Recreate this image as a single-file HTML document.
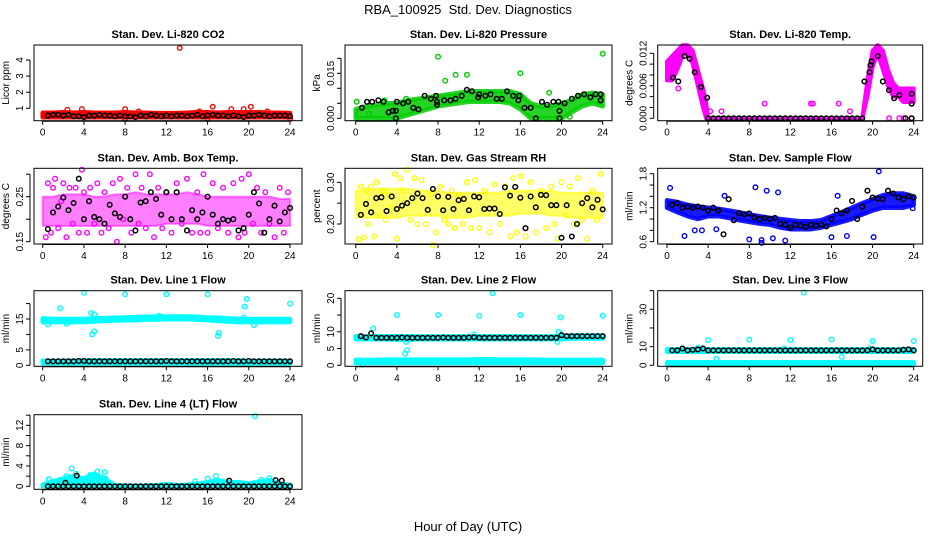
<!DOCTYPE html>
<html><head><meta charset="utf-8"><title>RBA_100925 Std. Dev. Diagnostics</title>
<style>
html,body{margin:0;padding:0;background:#fff;}
svg{display:block;font-family:"Liberation Sans",Arial,sans-serif;}
.t{font-size:11px;font-weight:bold;text-anchor:middle;}
.tk{font-size:10px;text-anchor:middle;}
</style></head>
<body>
<svg id="chart" width="936" height="540" viewBox="0 0 936 540">
<text x="468" y="14" font-size="13" text-anchor="middle" style="white-space:pre">RBA_100925  Std. Dev. Diagnostics</text>
<text x="468" y="531" font-size="13" text-anchor="middle">Hour of Day (UTC)</text>
</svg>
<script>
// ---------- shared categories ----------
const HOURS25 = [0,1,2,3,4,5,6,7,8,9,10,11,12,13,14,15,16,17,18,19,20,21,22,23,24];
const HALF = [0.5,1,1.5,2,2.5,3,3.5,4,4.5,5,5.5,6,6.5,7,7.5,8,8.5,9,9.5,10,10.5,11,11.5,12,12.5,13,13.5,14,14.5,15,15.5,16,16.5,17,17.5,18,18.5,19,19.5,20,20.5,21,21.5,22,22.5,23,23.5,24];
const X_TICKS = [0,4,8,12,16,20,24];
const cloudHours = [0.3,0.5,0.8,1.0,1.2,1.5,1.8,2.0,2.3,2.6,2.9,3.2,3.5,3.8,4.0,4.3,4.6,5.0,5.3,5.7,6.0,6.4,6.8,7.2,7.5,7.8,8.2,8.6,9.0,9.3,9.6,10.0,10.4,10.8,11.2,11.6,12.0,12.5,13.0,13.5,14.0,14.5,15.0,15.3,15.6,16.0,16.5,17.0,17.5,18.0,18.5,19.0,19.3,19.6,20.0,20.4,20.8,21.2,21.6,22.0,22.5,23.0,23.4,23.8];

// ---------- CO2 ----------
const co2Lo = [0.45,0.45,0.45,0.45,0.45,0.45,0.45,0.45,0.45,0.45,0.45,0.45,0.45,0.45,0.45,0.45,0.45,0.45,0.45,0.45,0.45,0.45,0.45,0.45,0.45];
const co2Hi = [0.72,0.72,0.75,0.72,0.75,0.72,0.72,0.72,0.75,0.72,0.72,0.7,0.7,0.7,0.72,0.75,0.75,0.72,0.75,0.75,0.75,0.75,0.72,0.72,0.7];
const co2OutH = [13.3,2.4,3.8,8.0,16.5,18.3,19.5,20.2,16.0,8.0,24.0,9.3,15.2,21.8];
const co2OutV = [4.75,0.9,0.95,0.95,1.1,0.95,0.95,1.1,0.35,0.35,0.35,0.8,0.8,0.8];
const co2Black = [0.55,0.6,0.6,0.55,0.6,0.5,0.5,0.45,0.55,0.55,0.6,0.55,0.55,0.5,0.55,0.5,0.5,0.45,0.55,0.5,0.6,0.55,0.5,0.55,0.5,0.55,0.55,0.5,0.55,0.6,0.5,0.55,0.6,0.55,0.55,0.5,0.55,0.5,0.45,0.55,0.55,0.6,0.55,0.5,0.55,0.55,0.55,0.5];

// ---------- Pressure ----------
const presLo = [0,0,0,0,0,0.001,0.002,0.003,0.004,0.0045,0.005,0.0055,0.0055,0.0055,0.0055,0.005,0.003,0,0,0,0,0.002,0.004,0.005,0.004];
const presHi = [0.003,0.004,0.0045,0.005,0.005,0.006,0.0065,0.007,0.0075,0.008,0.0085,0.009,0.009,0.009,0.009,0.009,0.008,0.005,0.004,0.004,0.005,0.006,0.008,0.0085,0.008];
const presOutH = [8.0,8.7,9.7,10.8,16.0,24.0,18.8,0.1,1.3,2.8,4.9,20.8];
const presOutV = [0.0205,0.0125,0.0145,0.0145,0.015,0.0215,0.0085,0.0055,0.0015,0.006,0.0065,0.0005];
const presBlackH = [0.6,1.1,1.6,2.2,2.7,3.2,3.6,3.9,3.9,4.0,4.6,5.1,5.6,6.1,6.7,7.3,7.8,7.9,7.9,8.6,9.2,9.7,10.3,10.8,11.3,11.9,12.0,12.6,13.1,13.7,14.2,14.7,15.3,15.8,15.9,16.4,17.0,17.5,18.1,18.6,19.2,19.7,19.8,19.8,20.3,21.0,21.6,22.2,22.8,23.3,23.8,23.8];
const presBlackV = [0.0035,0.0055,0.0055,0.006,0.0055,0.002,0.0025,0.0025,0,0.0055,0.005,0.0055,0.0035,0.003,0.0075,0.0065,0.0075,0.0055,0.0045,0.006,0.006,0.0065,0.0075,0.0095,0.009,0.007,0.008,0.0075,0.008,0.0065,0.0065,0.009,0.0075,0.006,0.0075,0.0035,0.0035,0,0.0055,0.0045,0.0055,0.0055,0.0025,0,0.005,0.0065,0.0075,0.008,0.007,0.008,0.008,0.006];

// ---------- Li-820 Temp ----------
const ltBandH = [0,0.5,1,1.5,2,2.5,3,3.5,3.8,4,19,19.5,20,20.5,21,21.5,22,22.5,23,24];
const ltLo = [0.007,0.007,0.009,0.0115,0.0125,0.01,0.006,0.002,0,0,0,0.004,0.0095,0.012,0.009,0.006,0.004,0.004,0.003,0.003];
const ltHi = [0.0105,0.0115,0.0125,0.0135,0.0135,0.0125,0.009,0.0055,0.003,0,0,0.007,0.0125,0.0135,0.0125,0.009,0.0065,0.0055,0.0055,0.0055];
const ltOutH = [9.5,14.0,14.2,16.7,5.3,4.2,17.8,21.6,23.8,1.1,22.6,23.0];
const ltOutV = [0.0027,0.0027,0.0027,0.0027,0.0013,0.0013,0.0013,0,0,0.0055,0,0];
const ltBlackH = [0.6,1.1,1.7,2.2,2.7,3.3,3.9,4,4.5,5,5.5,6,6.5,7,7.5,8,8.5,9,9.5,10,10.5,11,11.5,12,12.5,13,13.5,14,14.5,15,15.5,16,16.5,17,17.5,18,18.5,19,19.2,19.7,19.8,19.9,20.5,21.0,21.6,22.1,22.6,23.2,23.8,23.8,23.8];
const ltBlackV = [0.0075,0.0068,0.0115,0.011,0.0085,0.0058,0.0038,0,0,0,0,0,0,0,0,0,0,0,0,0,0,0,0,0,0,0,0,0,0,0,0,0,0,0,0,0,0,0,0.0068,0.0085,0.0098,0.0105,0.0115,0.0068,0.0052,0.0037,0.0043,0,0,0.0027,0.0045];

// ---------- Amb Box Temp ----------
const abLo = [0.185,0.185,0.185,0.185,0.185,0.185,0.185,0.185,0.185,0.185,0.185,0.185,0.19,0.19,0.19,0.19,0.185,0.185,0.185,0.185,0.185,0.185,0.185,0.185,0.185];
const abHi = [0.25,0.25,0.255,0.255,0.255,0.25,0.25,0.255,0.255,0.26,0.255,0.255,0.255,0.255,0.26,0.255,0.25,0.25,0.25,0.25,0.25,0.25,0.25,0.245,0.245];
const abCloud = [0.16,0.28,0.17,0.27,0.29,0.18,0.24,0.28,0.16,0.27,0.19,0.27,0.17,0.31,0.26,0.17,0.27,0.19,0.28,0.17,0.26,0.18,0.28,0.15,0.29,0.2,0.27,0.17,0.3,0.19,0.27,0.18,0.3,0.16,0.27,0.18,0.26,0.17,0.28,0.19,0.29,0.17,0.26,0.17,0.3,0.17,0.28,0.18,0.27,0.17,0.28,0.16,0.29,0.17,0.3,0.19,0.27,0.17,0.26,0.19,0.16,0.27,0.17,0.26];
const abBlack = [0.178,0.215,0.228,0.248,0.22,0.236,0.29,0.2,0.24,0.205,0.2,0.19,0.232,0.213,0.205,0.25,0.2,0.175,0.237,0.24,0.26,0.245,0.21,0.26,0.2,0.26,0.2,0.175,0.22,0.2,0.215,0.25,0.21,0.19,0.2,0.197,0.2,0.175,0.18,0.21,0.26,0.235,0.17,0.2,0.23,0.195,0.215,0.225];

// ---------- Gas Stream RH ----------
const rhLo = [0.215,0.215,0.215,0.215,0.215,0.22,0.22,0.22,0.22,0.215,0.215,0.215,0.22,0.22,0.22,0.22,0.225,0.225,0.225,0.22,0.22,0.215,0.215,0.215,0.215];
const rhHi = [0.28,0.28,0.285,0.285,0.285,0.285,0.28,0.28,0.28,0.275,0.275,0.275,0.275,0.275,0.275,0.28,0.28,0.28,0.28,0.28,0.275,0.275,0.275,0.275,0.275];
const rhCloud = [0.163,0.29,0.168,0.28,0.2,0.29,0.17,0.3,0.22,0.28,0.21,0.27,0.24,0.32,0.165,0.31,0.28,0.33,0.21,0.31,0.2,0.305,0.2,0.27,0.15,0.18,0.29,0.21,0.2,0.28,0.19,0.27,0.2,0.3,0.19,0.305,0.19,0.28,0.18,0.295,0.2,0.29,0.17,0.31,0.18,0.315,0.17,0.3,0.18,0.28,0.19,0.29,0.2,0.165,0.3,0.22,0.29,0.2,0.31,0.21,0.165,0.28,0.21,0.32];
const rhBlack = [0.222,0.248,0.228,0.262,0.264,0.231,0.266,0.236,0.244,0.25,0.262,0.273,0.262,0.234,0.284,0.266,0.233,0.265,0.236,0.257,0.26,0.233,0.266,0.264,0.236,0.237,0.237,0.224,0.288,0.268,0.289,0.263,0.19,0.266,0.24,0.27,0.269,0.245,0.245,0.167,0.245,0.17,0.2,0.25,0.262,0.24,0.258,0.235];

// ---------- Sample Flow ----------
const sfLo = [1.2,1.12,1.05,1.0,1.05,1.05,1.02,0.98,0.95,0.92,0.9,0.85,0.82,0.82,0.82,0.85,0.9,0.95,1.0,1.08,1.15,1.2,1.2,1.2,1.25];
const sfHi = [1.33,1.3,1.25,1.22,1.2,1.18,1.15,1.12,1.08,1.05,1.02,1.0,0.98,0.96,0.96,0.98,1.05,1.12,1.2,1.28,1.35,1.42,1.45,1.45,1.4];
const sfOutH = [0.3,1.7,8.6,9.7,10.8,20.6,20.1,9.2,9.2,11.5,8.0,16.6,23.9,5.6,16.0,17.5,2.7,3.4,4.8,10.3];
const sfOutV = [1.55,0.7,1.56,1.5,1.47,1.84,0.68,0.58,0.63,0.62,0.64,1.41,1.19,1.41,0.68,0.7,0.8,0.8,0.82,0.66];
const sfBlack = [1.25,1.28,1.2,1.22,1.2,1.22,1.2,1.15,1.2,1.15,0.73,1.35,0.98,1.1,1.08,1.1,1.03,1.0,1.02,1.0,1.02,0.92,0.9,0.85,0.9,0.88,0.86,0.9,0.88,0.9,0.87,1.0,1.15,1.1,1.15,1.32,1.0,1.22,1.5,1.38,1.36,1.35,1.5,1.45,1.38,1.35,1.4,1.38];

// ---------- Line 1 Flow ----------
const l1UpLo = [14.0,14.0,14.0,14.0,14.0,14.2,14.4,14.5,14.6,14.6,14.8,14.8,14.9,14.9,14.9,14.8,14.6,14.4,14.2,14.0,14.0,14.0,14.0,14.0,14.0];
const l1UpHi = [15.2,15.0,15.0,15.0,15.0,15.2,15.3,15.4,15.5,15.6,15.7,15.8,15.8,15.8,15.8,15.7,15.5,15.4,15.2,15.0,15.0,15.0,15.0,15.0,15.0];
const l1DnLo = [0.6,0.6,0.6,0.6,0.6,0.6,0.6,0.6,0.6,0.6,0.6,0.6,0.6,0.6,0.6,0.6,0.6,0.6,0.6,0.6,0.6,0.6,0.6,0.6,0.6];
const l1DnHi = [1.5,1.5,1.5,1.5,1.6,1.6,1.6,1.6,1.6,1.6,1.6,1.6,1.6,1.6,1.6,1.6,1.6,1.6,1.6,1.6,1.5,1.5,1.5,1.5,1.5];
const l1OutH = [4.0,8.0,12.0,16.0,19.8,24.0,1.7,4.7,5.0,4.8,5.0,17.0,17.1,19.6,19.5,11.3,20.5,0.5,2.3];
const l1OutV = [23.5,23,23,23,21.5,20,18.5,17,16.5,10,11,9.5,10.5,19,15.5,16,13,13.2,13.5];
const l1Black = [1.3,1.3,1.3,1.3,1.3,1.3,1.4,1.4,1.3,1.3,1.3,1.3,1.3,1.3,1.3,1.3,1.3,1.3,1.3,1.3,1.3,1.3,1.3,1.4,1.3,1.3,1.3,1.3,1.3,1.3,1.3,1.3,1.3,1.3,1.3,1.3,1.4,1.3,1.3,1.4,1.3,1.3,1.3,1.3,1.3,1.3,1.3,1.3];

// ---------- Line 2 Flow ----------
const l2UpLo = [7.8,7.8,7.8,7.8,7.6,7.6,7.8,7.8,7.8,7.8,7.8,7.8,7.8,7.8,7.8,7.8,7.8,7.8,7.8,7.8,7.8,8.0,8.0,8.0,8.0];
const l2UpHi = [8.7,8.7,8.7,8.7,8.7,8.7,8.6,8.6,8.6,8.6,8.6,8.7,8.7,8.7,8.7,8.7,8.7,8.6,8.6,8.6,8.8,8.9,8.9,8.9,8.9];
const l2DnLo = [0.7,0.7,0.7,0.7,0.7,0.7,0.7,0.7,0.7,0.7,0.7,0.7,0.7,0.7,0.7,0.7,0.7,0.7,0.7,0.7,0.7,0.7,0.7,0.7,0.7];
const l2DnHi = [1.6,1.6,1.6,1.7,1.7,1.7,1.7,1.7,1.7,1.7,1.7,1.7,1.8,1.8,1.7,1.7,1.7,1.7,1.6,1.6,1.6,1.6,1.6,1.6,1.6];
const l2OutH = [13.3,4.0,8.0,12.0,16.0,19.9,24.0,1.7,4.8,5.0,4.9,19.6,19.7,11.5,0.7];
const l2OutV = [21.5,15,15,14.8,15,14.3,14.8,11,3.5,4.5,7,7,10,9.2,0.2];
const l2Black = [8.7,8.3,9.5,8.2,8.2,8.2,8.2,8.2,8.3,8.2,8.2,8.2,8.2,8.2,8.2,8.2,8.3,8.2,8.2,8.2,8.2,8.3,8.4,8.2,8.2,8.2,8.2,8.2,8.2,8.2,8.2,8.2,8.2,8.2,8.2,8.2,8.2,8.2,8.2,9.0,8.7,8.7,8.7,8.7,8.7,8.7,8.7,8.7];

// ---------- Line 3 Flow ----------
const l3UpLo = [7.3,7.3,7.3,7.3,7.3,7.3,7.3,7.3,7.3,7.3,7.3,7.3,7.3,7.3,7.3,7.3,7.3,7.3,7.3,7.3,7.3,7.3,7.3,7.3,7.3];
const l3UpHi = [8.5,8.5,8.5,8.5,8.5,8.5,8.5,8.5,8.5,8.5,8.5,8.5,8.5,8.5,8.5,8.5,8.5,8.5,8.5,8.5,8.5,8.5,8.5,8.5,8.5];
const l3DnLo = [0.4,0.4,0.4,0.4,0.4,0.4,0.4,0.4,0.4,0.4,0.4,0.4,0.4,0.4,0.4,0.4,0.4,0.4,0.4,0.4,0.4,0.4,0.4,0.4,0.4];
const l3DnHi = [1.6,1.6,1.6,1.6,1.6,1.6,1.6,1.6,1.6,1.6,1.6,1.6,1.6,1.6,1.6,1.6,1.6,1.6,1.6,1.6,1.6,1.6,1.6,1.6,1.6];
const l3OutH = [13.3,4.0,8.0,12.0,16.0,20.0,24.0,4.8,17.0,3.0,19.7,11.4];
const l3OutV = [39,13.5,13.8,13.5,13.8,13,13,3.5,4.5,9.5,9,9];
const l3Black = [8,8,9,8,8.3,8.5,9,8,8,8,8,8,8,8,8,8,8,8,8,8,8,8,8,8,8,8,8,8,8,8,8,8,8,8,8,8,8,8,8,8.5,8,8,8,8,8,8.3,8.5,8];

// ---------- Line 4 (LT) Flow ----------
const l4Lo = [0,0,0,0,0,0,0,0,0,0,0,0,0,0,0,0,0,0,0,0,0,0,0,0,0];
const l4Hi = [0.3,1.0,1.5,2.0,1.5,2.5,1.5,0.2,0.1,0.1,0.1,0.2,0.4,0.2,0.3,0.5,0.8,1.2,0.8,0.8,0.6,0.9,1.2,0.5,0.3];
const l4OutH = [20.6,2.8,3.2,6.0,5.3,6.1,0.6,4.6,16.0,16.8,22.0,14.8,21.2,4.2,2.3];
const l4OutV = [13.8,3.5,2.5,2.8,2.9,1.5,1.4,2.2,1.5,2.0,1.6,1.0,1.3,1.6,2.0];
const l4ExtraH = [2.2,3.3,18.1,22.6,23.2];
const l4ExtraV = [0.7,2.1,1.1,1.2,1.1];
const l4Black = [0,0,0,0,0,0,0,0,0,0,0,0,0,0,0,0,0,0,0,0,0,0,0,0,0,0,0,0,0,0,0,0,0,0,0,0,0,0,0,0,0,0,0,0,0,0,0,0];

// ---------- drawing ----------
const NS = 'http://www.w3.org/2000/svg';
const svg = document.getElementById('chart');
function mk(tag, attrs, parent){
  const e = document.createElementNS(NS, tag);
  for (const k in attrs) e.setAttribute(k, attrs[k]);
  (parent || svg).appendChild(e);
  return e;
}
function scale(d0, d1, r0, r1){ return v => r0 + (v - d0) * (r1 - r0) / (d1 - d0); }

const COLS = [
  {left:34, right:302, x0:42.7, x24:290},
  {left:345, right:612, x0:355.7, x24:602.7},
  {left:657.7, right:922.7, x0:667, x24:913.7}
];
const ROWS = [{top:45, bot:120.7},{top:168.3, bot:244},{top:290.7, bot:366.3},{top:414.7, bot:489.3}];

function panel(cfg){
  const col = COLS[cfg.c], row = ROWS[cfg.r];
  const g = mk('g', {});
  
  
  const xs = scale(0, 24, col.x0, col.x24);
  const ys = scale(cfg.yd[0], cfg.yd[1], cfg.yp[0], cfg.yp[1]);
  const t = mk('text', {x:(col.left+col.right)/2, y:row.top-7, class:'t'}, g);
  t.textContent = cfg.title;
  
  
  (cfg.bands || []).forEach(b => {
    const pts = [];
    b.h.forEach((h,i) => pts.push(xs(h).toFixed(1)+','+ys(b.lo[i]).toFixed(1)));
    for (let i=b.h.length-1;i>=0;i--) pts.push(xs(b.h[i]).toFixed(1)+','+ys(b.hi[i]).toFixed(1));
    const p = mk('polygon', {points:pts.join(' '), fill:cfg.color, 'fill-opacity':b.op||1, stroke:cfg.color, 'stroke-opacity':b.op||1, 'stroke-width':b.sw||4.5, 'stroke-linejoin':'round'}, g);
    
    
  });
  (cfg.pts || []).forEach(s => {
    s.h.forEach((h,i) => {
      const c = mk('circle', {cx:xs(h), cy:ys(s.v[i]), r:2.3, fill:'none', stroke:cfg.color, 'stroke-width':1.4}, g);
      
      
    });
  });
  (cfg.black || []).forEach(s => {
    s.h.forEach((h,i) => {
      const c = mk('circle', {cx:xs(h), cy:ys(s.v[i]), r:2.3, fill:'none', stroke:'#000', 'stroke-width':1.5}, g);
      
      
    });
  });
  const box = mk('rect', {x:col.left, y:row.top, width:col.right-col.left, height:row.bot-row.top, fill:'none', stroke:'#000', 'stroke-width':1}, g);
  
  
  X_TICKS.forEach(v => {
    const x = xs(v);
    mk('line', {x1:x, x2:x, y1:row.bot, y2:row.bot+4, stroke:'#000'}, g);
    const tx = mk('text', {x:x, y:row.bot+15, class:'tk'}, g);
    tx.textContent = v;
    
    
  });
  mk('line', {x1:xs(0), x2:xs(24), y1:row.bot+0.5, y2:row.bot+0.5, stroke:'#000'}, g);
  const yTop = ys(cfg.yt[cfg.yt.length-1]), yBot = ys(cfg.yt[0]);
  mk('line', {x1:col.left-4, x2:col.left-4, y1:yTop, y2:yBot, stroke:'#000'}, g);
  cfg.yt.forEach(v => {
    const y = ys(v);
    mk('line', {x1:col.left-8, x2:col.left-4, y1:y, y2:y, stroke:'#000'}, g);
  });
  cfg.yl.forEach((lab,i) => {
    const y = ys(cfg.ylv[i]);
    const tx = mk('text', {x:0, y:0, class:'tk', transform:'translate('+(col.left-11)+','+y+') rotate(-90)'}, g);
    tx.textContent = lab;
    
    
  });
  const yt = mk('text', {x:0, y:0, class:'tk', 'font-size':10, transform:'translate('+(col.left-25)+','+((row.top+row.bot)/2)+') rotate(-90)'}, g);
  yt.textContent = cfg.ylab;
  
  
}

panel({name:'panel-co2', c:0, r:0, title:'Stan. Dev. Li-820 CO2', color:'#ff0000', ylab:'Licor ppm',
  yd:[1,4], yp:[108.3,60], yt:[1,2,3,4], yl:['1','2','3','4'], ylv:[1,2,3,4],
  bands:[{h:HOURS25, lo:co2Lo, hi:co2Hi}], pts:[{h:co2OutH, v:co2OutV}], black:[{h:HALF, v:co2Black}]});

panel({name:'panel-pressure', c:1, r:0, title:'Stan. Dev. Li-820 Pressure', color:'#00cc00', ylab:'kPa',
  yd:[0,0.015], yp:[118.3,73.3], yt:[0,0.005,0.01,0.015,0.02], yl:['0.000','0.015'], ylv:[0,0.015],
  bands:[{h:HOURS25, lo:presLo, hi:presHi, op:0.85}], pts:[{h:presOutH, v:presOutV}], black:[{h:presBlackH, v:presBlackV}]});

panel({name:'panel-li-temp', c:2, r:0, title:'Stan. Dev. Li-820 Temp.', color:'#ff00ff', ylab:'degrees C',
  yd:[0,0.012], yp:[118.3,53.3], yt:[0,0.002,0.004,0.006,0.008,0.01,0.012], yl:['0.000','0.006','0.012'], ylv:[0,0.006,0.012],
  bands:[{h:ltBandH, lo:ltLo, hi:ltHi, sw:4}], pts:[{h:ltOutH, v:ltOutV}], black:[{h:ltBlackH, v:ltBlackV}]});

panel({name:'panel-amb-box-temp', c:0, r:1, title:'Stan. Dev. Amb. Box Temp.', color:'#ff00ff', ylab:'degrees C',
  yd:[0.15,0.25], yp:[241.7,196.7], yt:[0.15,0.2,0.25,0.3], yl:['0.15','0.25'], ylv:[0.15,0.25],
  bands:[{h:HOURS25, lo:abLo, hi:abHi, op:0.5, sw:2}], pts:[{h:cloudHours, v:abCloud}], black:[{h:HALF, v:abBlack}]});

panel({name:'panel-gas-rh', c:1, r:1, title:'Stan. Dev. Gas Stream RH', color:'#ffff00', ylab:'percent',
  yd:[0.2,0.3], yp:[224,182.3], yt:[0.2,0.25,0.3], yl:['0.20','0.30'], ylv:[0.2,0.3],
  bands:[{h:HOURS25, lo:rhLo, hi:rhHi, op:0.6, sw:2}], pts:[{h:cloudHours, v:rhCloud}], black:[{h:HALF, v:rhBlack}]});

panel({name:'panel-sample-flow', c:2, r:1, title:'Stan. Dev. Sample Flow', color:'#0000ff', ylab:'ml/min',
  yd:[0.6,1.2], yp:[241.7,207.7], yt:[0.6,0.8,1.0,1.2,1.4,1.6,1.8], yl:['0.6','1.2','1.8'], ylv:[0.6,1.2,1.8],
  bands:[{h:HOURS25, lo:sfLo, hi:sfHi, op:0.9}], pts:[{h:sfOutH, v:sfOutV}], black:[{h:HALF, v:sfBlack}]});

panel({name:'panel-line1-flow', c:0, r:2, title:'Stan. Dev. Line 1 Flow', color:'#00ffff', ylab:'ml/min',
  yd:[0,15], yp:[365.3,319], yt:[0,5,10,15,20], yl:['0','5','15'], ylv:[0,5,15],
  bands:[{h:HOURS25, lo:l1UpLo, hi:l1UpHi},{h:HOURS25, lo:l1DnLo, hi:l1DnHi}], pts:[{h:l1OutH, v:l1OutV}], black:[{h:HALF, v:l1Black}]});

panel({name:'panel-line2-flow', c:1, r:2, title:'Stan. Dev. Line 2 Flow', color:'#00ffff', ylab:'ml/min',
  yd:[0,20], yp:[365.3,298.3], yt:[0,5,10,15,20], yl:['0','5','10','20'], ylv:[0,5,10,20],
  bands:[{h:HOURS25, lo:l2UpLo, hi:l2UpHi},{h:HOURS25, lo:l2DnLo, hi:l2DnHi}], pts:[{h:l2OutH, v:l2OutV}], black:[{h:HALF, v:l2Black}]});

panel({name:'panel-line3-flow', c:2, r:2, title:'Stan. Dev. Line 3 Flow', color:'#00ffff', ylab:'ml/min',
  yd:[0,30], yp:[365.3,309.3], yt:[0,10,20,30,40], yl:['0','10','30'], ylv:[0,10,30],
  bands:[{h:HOURS25, lo:l3UpLo, hi:l3UpHi},{h:HOURS25, lo:l3DnLo, hi:l3DnHi}], pts:[{h:l3OutH, v:l3OutV}], black:[{h:HALF, v:l3Black}]});

panel({name:'panel-line4-flow', c:0, r:3, title:'Stan. Dev. Line 4 (LT) Flow', color:'#00ffff', ylab:'ml/min',
  yd:[0,12], yp:[486.3,425.3], yt:[0,2,4,6,8,10,12,14], yl:['0','4','8','12'], ylv:[0,4,8,12],
  bands:[{h:HOURS25, lo:l4Lo, hi:l4Hi}], pts:[{h:l4OutH, v:l4OutV}], black:[{h:HALF, v:l4Black},{h:l4ExtraH, v:l4ExtraV}]});
</script>
</body></html>
